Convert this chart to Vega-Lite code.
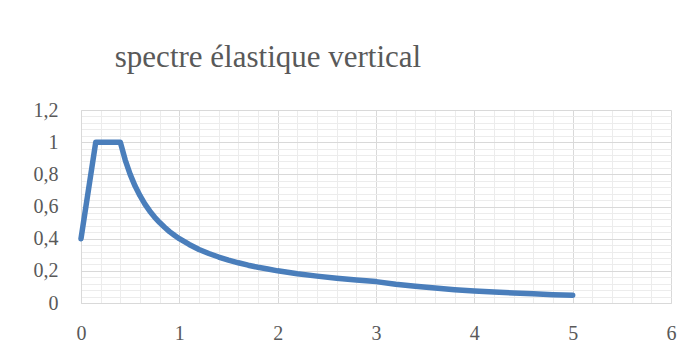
{
  "$schema": "https://vega.github.io/schema/vega-lite/v6.json",
  "autosize": "none",
  "width": 590,
  "height": 193,
  "padding": {"left": 81, "top": 110, "right": 23, "bottom": 55},
  "background": "white",
  "title": {
    "text": "spectre élastique vertical",
    "font": "Liberation Serif",
    "fontSize": 31,
    "fontWeight": "normal",
    "color": "#595959",
    "anchor": "middle",
    "dx": -108,
    "offset": 2,
    "baseline": "alphabetic"
  },
  "config": {"view": {"stroke": null}},
  "data": {
    "values": [
      {"T": 0, "Sv": 0.4},
      {"T": 0.15, "Sv": 1},
      {"T": 0.4, "Sv": 1},
      {"T": 0.45, "Sv": 0.889},
      {"T": 0.5, "Sv": 0.8},
      {"T": 0.55, "Sv": 0.727},
      {"T": 0.6, "Sv": 0.667},
      {"T": 0.65, "Sv": 0.615},
      {"T": 0.7, "Sv": 0.571},
      {"T": 0.75, "Sv": 0.533},
      {"T": 0.8, "Sv": 0.5},
      {"T": 0.85, "Sv": 0.471},
      {"T": 0.9, "Sv": 0.444},
      {"T": 0.95, "Sv": 0.421},
      {"T": 1.0, "Sv": 0.4},
      {"T": 1.1, "Sv": 0.364},
      {"T": 1.2, "Sv": 0.333},
      {"T": 1.3, "Sv": 0.308},
      {"T": 1.4, "Sv": 0.286},
      {"T": 1.5, "Sv": 0.267},
      {"T": 1.6, "Sv": 0.25},
      {"T": 1.7, "Sv": 0.235},
      {"T": 1.8, "Sv": 0.222},
      {"T": 1.9, "Sv": 0.211},
      {"T": 2.0, "Sv": 0.2},
      {"T": 2.2, "Sv": 0.182},
      {"T": 2.4, "Sv": 0.167},
      {"T": 2.6, "Sv": 0.154},
      {"T": 2.8, "Sv": 0.143},
      {"T": 3.0, "Sv": 0.133},
      {"T": 3.2, "Sv": 0.117},
      {"T": 3.4, "Sv": 0.104},
      {"T": 3.6, "Sv": 0.093},
      {"T": 3.8, "Sv": 0.083},
      {"T": 4.0, "Sv": 0.075},
      {"T": 4.2, "Sv": 0.068},
      {"T": 4.4, "Sv": 0.062},
      {"T": 4.6, "Sv": 0.057},
      {"T": 4.8, "Sv": 0.052},
      {"T": 5.0, "Sv": 0.048}
    ]
  },
  "resolve": {"axis": {"x": "independent", "y": "independent"}},
  "layer": [
    {
      "mark": {"type": "line", "opacity": 0},
      "encoding": {
        "x": {
          "field": "T", "type": "quantitative",
          "scale": {"domain": [0, 6], "nice": false},
          "axis": {
            "orient": "bottom", "title": null, "labels": false, "ticks": false, "domain": false,
            "grid": true, "gridColor": "#ececec", "gridWidth": 1,
            "values": [0.2,0.4,0.6,0.8,1.2,1.4,1.6,1.8,2.2,2.4,2.6,2.8,3.2,3.4,3.6,3.8,4.2,4.4,4.6,4.8,5.2,5.4,5.6,5.8]
          }
        },
        "y": {
          "field": "Sv", "type": "quantitative",
          "scale": {"domain": [0, 1.2], "nice": false},
          "axis": {
            "orient": "left", "title": null, "labels": false, "ticks": false, "domain": false,
            "grid": true, "gridColor": "#ececec", "gridWidth": 1,
            "values": [0.04,0.08,0.12,0.16,0.24,0.28,0.32,0.36,0.44,0.48,0.52,0.56,0.64,0.68,0.72,0.76,0.84,0.88,0.92,0.96,1.04,1.08,1.12,1.16]
          }
        }
      }
    },
    {
      "mark": {"type": "line", "color": "#4a7ebb", "strokeWidth": 5.5, "strokeCap": "round", "strokeJoin": "round"},
      "encoding": {
        "x": {
          "field": "T", "type": "quantitative",
          "scale": {"domain": [0, 6], "nice": false},
          "axis": {
            "orient": "bottom", "title": null, "ticks": false, "domain": true, "domainColor": "#d9d9d9",
            "grid": true, "gridColor": "#d9d9d9", "gridWidth": 1,
            "values": [0, 1, 2, 3, 4, 5, 6],
            "labelFont": "Liberation Serif", "labelFontSize": 20, "labelColor": "#595959",
            "labelPadding": 20, "labelFlush": false, "labelOverlap": false
          }
        },
        "y": {
          "field": "Sv", "type": "quantitative",
          "scale": {"domain": [0, 1.2], "nice": false},
          "axis": {
            "orient": "left", "title": null, "ticks": false, "domain": true, "domainColor": "#d9d9d9",
            "grid": true, "gridColor": "#d9d9d9", "gridWidth": 1,
            "values": [0, 0.2, 0.4, 0.6, 0.8, 1, 1.2],
            "format": "~g",
            "labelExpr": "replace(datum.label, '.', ',')",
            "labelFont": "Liberation Serif", "labelFontSize": 20, "labelColor": "#595959",
            "labelPadding": 23, "labelFlush": false, "labelOverlap": false
          }
        }
      }
    }
  ]
}
